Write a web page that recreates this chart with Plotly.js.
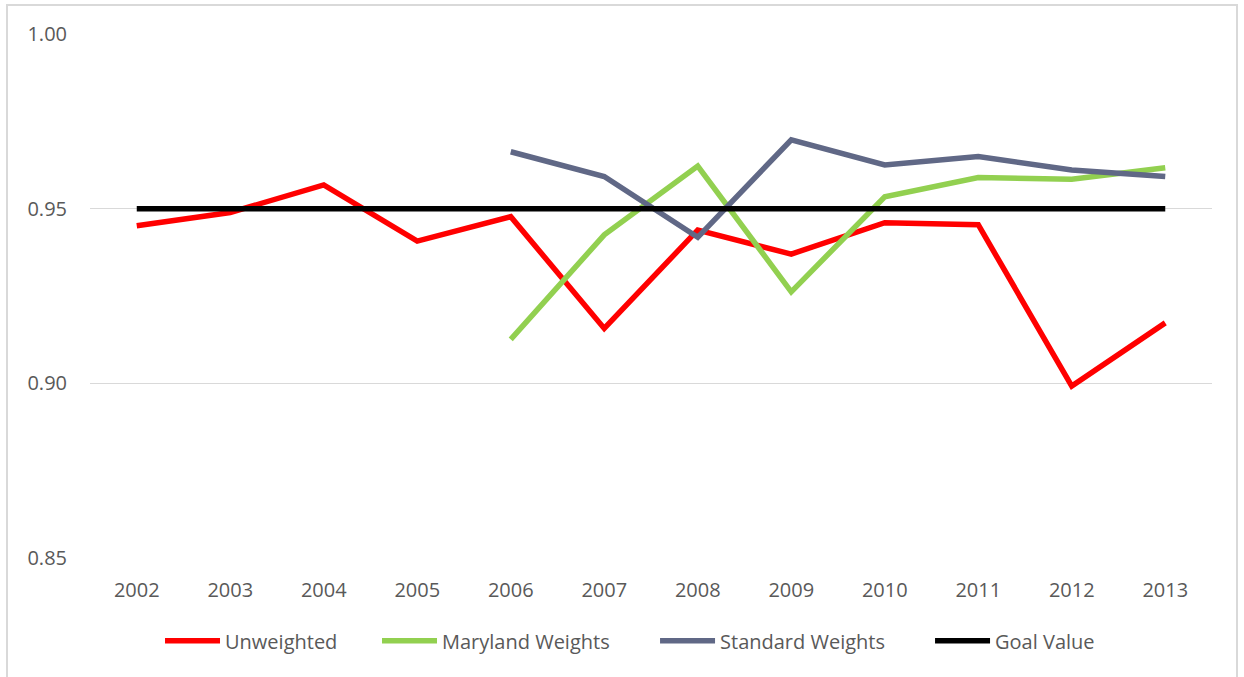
<!DOCTYPE html>
<html>
<head>
<meta charset="utf-8">
<script src="https://cdn.plot.ly/plotly-3.0.1.min.js"></script>
<style>
html,body{margin:0;padding:0;background:#fff;width:1244px;height:677px;overflow:hidden;}
#frame{position:absolute;left:6px;top:4px;width:1232px;height:700px;border:2px solid #d9d9d9;box-sizing:border-box;}
#chart{position:absolute;left:0;top:0;width:1244px;height:677px;}
</style>
</head>
<body>
<div id="frame"></div>
<div id="chart"></div>
<script>
const years = ["2002","2003","2004","2005","2006","2007","2008","2009","2010","2011","2012","2013"];
const unweighted = [0.9451,0.9489,0.9568,0.9407,0.9477,0.9157,0.9439,0.9370,0.9460,0.9454,0.8992,0.9173];
const marylandWeights = [null,null,null,null,0.9126,0.9425,0.9622,0.9262,0.9534,0.9589,0.9584,0.9617];
const standardWeights = [null,null,null,null,0.9663,0.9592,0.9418,0.9697,0.9625,0.9649,0.9611,0.9592];
const goalValue = [0.95,0.95,0.95,0.95,0.95,0.95,0.95,0.95,0.95,0.95,0.95,0.95];
const yTicks = [0.85,0.90,0.95,1.00];
const yTickLabels = ["0.85","0.90","0.95","1.00"];

const font = {family:"Open Sans, sans-serif", size:20, color:"#595959"};
function tr(name, y, color, lg){
  return {x:years, y:y, name:name, type:"scatter", mode:"lines",
          line:{color:color, width:5.5}, connectgaps:false, hoverinfo:"x+y", legend:lg};
}
const data = [
  tr("Unweighted", unweighted, "#ff0000", "legend"),
  tr("Maryland Weights", marylandWeights, "#92d050", "legend2"),
  tr("Standard Weights", standardWeights, "#606886", "legend3"),
  tr("Goal Value", goalValue, "#000000", "legend4")
];
function lg(x){
  return {orientation:"h", x:x, xanchor:"left", y:-0.158, yanchor:"middle",
          font:font, itemwidth:55, bgcolor:"rgba(0,0,0,0)"};
}
const layout = {
  width:1244, height:677,
  margin:{l:90, r:32, t:34, b:119, autoexpand:false},
  paper_bgcolor:"rgba(0,0,0,0)", plot_bgcolor:"rgba(0,0,0,0)",
  font:font,
  showlegend:true,
  legend:lg(0.0624), legend2:lg(0.2558), legend3:lg(0.5036), legend4:lg(0.7487),
  xaxis:{type:"category", range:[-0.5,11.5], showgrid:false, zeroline:false, showline:false,
         ticks:"", tickangle:0, tickfont:font, ticklabelstandoff:18, fixedrange:true},
  yaxis:{range:[0.85,1.00], tickvals:yTicks, ticktext:yTickLabels, showgrid:true,
         gridcolor:"#d9d9d9", gridwidth:1.5, zeroline:false, showline:false, ticks:"",
         tickfont:font, ticklabelstandoff:22, fixedrange:true}
};
Plotly.newPlot("chart", data, layout, {displayModeBar:false, staticPlot:true});
</script>
</body>
</html>
